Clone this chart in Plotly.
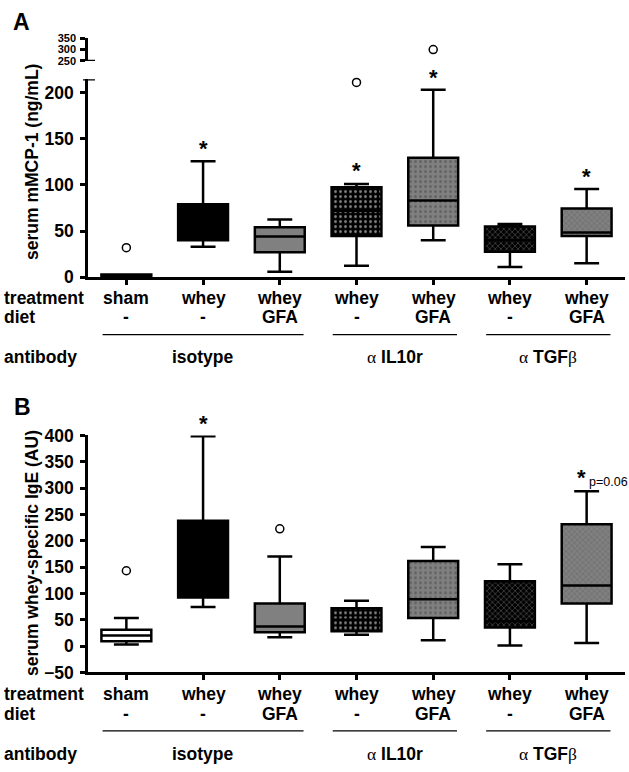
import plotly.graph_objects as go

W, H = 629, 772

# ---------------- data ----------------
categories = [0, 1, 2, 3, 4, 5, 6]
treatments = ["sham", "whey", "whey", "whey", "whey", "whey", "whey"]
diets = ["-", "-", "GFA", "-", "GFA", "-", "GFA"]
row_labels = ["treatment", "diet", "antibody"]
antibody_labels = ["<b>isotype</b>",
                   '<span style="font-family:Liberation Serif">α</span> <b>IL10r</b>',
                   '<span style="font-family:Liberation Serif">α</span> <b>TGF</b><span style="font-family:Liberation Serif">β</span>']
antibody_spans = [[0, 2], [3, 4], [5, 6]]

# Panel A : serum mMCP-1 (ng/mL)
a_ticks = [0, 50, 100, 150, 200]
a_hi_ticks = [250, 300, 350]
a_q1 = [0, 40, 27, 44.5, 56, 27.5, 44.5]
a_med = [1, 55, 44, 72, 83, 40, 48.5]
a_q3 = [3, 79, 54, 97.5, 129.5, 55, 74.5]
a_low = [0, 33, 6, 12.5, 40, 11, 15]
a_high = [3, 125.5, 62.5, 101, 203, 57.5, 95.5]
a_out_x = [0, 3]
a_out_y = [32, 211]
a_outhi_x = [4]
a_outhi_y = [300]
a_star_x = [1, 3, 4, 6]
a_star_y = [145, 120.5, 221.5, 115]

# Panel B : serum whey-specific IgE (AU)
b_ticks = [-50, 0, 50, 100, 150, 200, 250, 300, 350, 400]
b_q1 = [9, 92, 26, 28, 53.5, 35, 81]
b_med = [20, 130, 37, 50, 89, 47, 115]
b_q3 = [31, 238, 81, 72, 161.5, 123, 231.5]
b_low = [3, 74, 16.5, 21.5, 11, 1, 6]
b_high = [53.5, 398.5, 170, 86, 188, 155.5, 294]
b_out_x = [0, 2]
b_out_y = [143, 222.5]
b_star_x = [1, 5.93]
b_star_y = [432, 329]
b_pval_text = "p=0.06"
b_pval_x = 6.01
b_pval_y = 311

# ---------------- styles ----------------
FONT = "Liberation Sans, Arial, sans-serif"
fills = ["white", "black", "#808080", "black", "#808080", "black", "#808080"]
pat_shapes = ["", "", "", ".", ".", "x", "x"]
pat_fg = ["black", "black", "black", "white", "#262626", "white", "#262626"]
pat_size = [5, 5, 5, 5, 5, 4, 4]
pat_solid = [0.25, 0.25, 0.25, 0.25, 0.25, 0.2, 0.2]
LW = 2.5
BOXW = 0.65
FS = 17.5


def px_y(py):
    return 1 - py / H


def px_x(px):
    return px / W


A_DOM = [px_y(274.3), px_y(71)]
A_RNG = [0, 214.5]
A2_DOM = [px_y(52.3), px_y(29)]
A2_RNG = [250, 350]
B_DOM = [px_y(680), px_y(436.7)]
B_RNG = [-50, 400]


def val_to_paper(v, dom, rng):
    return dom[0] + (v - rng[0]) / (rng[1] - rng[0]) * (dom[1] - dom[0])


fig = go.Figure()


def add_panel(xa, ya, q1, med, q3, low, high):
    xs = categories
    fig.add_trace(go.Bar(
        x=xs, y=[b - a for a, b in zip(q1, q3)], base=q1, width=BOXW,
        xaxis=xa, yaxis=ya,
        marker=dict(color=fills, line=dict(width=0),
                    pattern=dict(shape=pat_shapes, fgcolor=pat_fg, bgcolor=fills,
                                 size=pat_size, solidity=pat_solid)),
        showlegend=False, hoverinfo="skip"))
    fig.add_trace(go.Box(
        x=xs, q1=q1, median=med, q3=q3, lowerfence=low, upperfence=high,
        xaxis=xa, yaxis=ya, width=BOXW, whiskerwidth=0.5, boxpoints=False,
        fillcolor="rgba(0,0,0,0)", line=dict(color="black", width=LW),
        showlegend=False))


add_panel("x", "y", a_q1, a_med, a_q3, a_low, a_high)
add_panel("x2", "y3", b_q1, b_med, b_q3, b_low, b_high)

outl = dict(symbol="circle-open", size=8, color="black", line=dict(width=1.5))
fig.add_trace(go.Scatter(x=a_out_x, y=a_out_y, mode="markers", marker=outl,
                         xaxis="x", yaxis="y", cliponaxis=False, showlegend=False))
fig.add_trace(go.Scatter(x=a_outhi_x, y=a_outhi_y, mode="markers", marker=outl,
                         xaxis="x", yaxis="y2", cliponaxis=False, showlegend=False))
fig.add_trace(go.Scatter(x=b_out_x, y=b_out_y, mode="markers", marker=outl,
                         xaxis="x2", yaxis="y3", cliponaxis=False, showlegend=False))

tickfont = dict(family=FONT, size=FS, color="black", weight="bold")
xdom = [px_x(88), px_x(625)]
common_x = dict(domain=xdom, range=[-0.5, 6.5], showline=True, linewidth=LW, linecolor="black",
                ticks="outside", ticklen=5, tickwidth=LW, tickcolor="black",
                tickvals=categories, showticklabels=False, showgrid=False, zeroline=False)
common_y = dict(showline=True, linewidth=LW, linecolor="black", ticks="outside", ticklen=5,
                tickwidth=LW, tickcolor="black", showgrid=False, zeroline=False,
                tickfont=tickfont, ticklabelstandoff=3)

fig.update_layout(
    width=W, height=H, margin=dict(l=0, r=0, t=0, b=0),
    paper_bgcolor="white", plot_bgcolor="rgba(0,0,0,0)",
    font=dict(family=FONT, color="black"),
    showlegend=False,
    xaxis=dict(anchor="y", **common_x),
    xaxis2=dict(anchor="y3", **common_x),
    yaxis=dict(anchor="x", domain=A_DOM, range=A_RNG, tickvals=a_ticks, **common_y),
    yaxis2=dict(anchor="x", domain=A2_DOM, range=A2_RNG, tickvals=a_hi_ticks,
                **{**common_y, "ticklabelstandoff": 2,
                   "tickfont": dict(family=FONT, size=11, color="black", weight="bold")}),
    yaxis3=dict(anchor="x2", domain=B_DOM, range=B_RNG, tickvals=b_ticks, **common_y),
)

# axis break marks
for yref, val in [("y", A_RNG[1]), ("y2", A2_RNG[0])]:
    fig.add_shape(type="line", xref="paper", yref=yref, x0=px_x(83), x1=px_x(95),
                  y0=val, y1=val, line=dict(color="black", width=LW))

ann = []
labfont = dict(family=FONT, size=FS, color="black", weight="bold")
starfont = dict(family=FONT, size=22, color="black", weight="bold")

for xa, sx, sy, dom, rng in [("x", a_star_x, a_star_y, A_DOM, A_RNG),
                             ("x2", b_star_x, b_star_y, B_DOM, B_RNG)]:
    for x, y in zip(sx, sy):
        ann.append(dict(xref=xa, yref="paper", x=x, y=val_to_paper(y, dom, rng), text="*",
                        showarrow=False, xanchor="center", yanchor="middle", yshift=-5,
                        font=starfont))

for xa, rows_y, line_y, ab_y in [("x", (296, 315), 333.3, 356), ("x2", (702.3, 722.7), 740, 763.3)]:
    for lab, yy in zip(row_labels, [rows_y[0], rows_y[1], ab_y]):
        ann.append(dict(xref="paper", yref="paper", x=px_x(2), y=px_y(yy), text=lab,
                        xanchor="left", yanchor="middle", showarrow=False, font=labfont))
    for c, t, d in zip(categories, treatments, diets):
        ann.append(dict(xref=xa, yref="paper", x=c, y=px_y(rows_y[0]), text=t,
                        xanchor="center", yanchor="middle", showarrow=False, font=labfont))
        ann.append(dict(xref=xa, yref="paper", x=c, y=px_y(rows_y[1]), text=d,
                        xanchor="center", yanchor="middle", showarrow=False, font=labfont))
    for lab, (c0, c1) in zip(antibody_labels, antibody_spans):
        fig.add_shape(type="line", xref=xa, yref="paper", x0=c0 - 0.31, x1=c1 + 0.31,
                      y0=px_y(line_y), y1=px_y(line_y), line=dict(color="black", width=1.2))
        ann.append(dict(xref=xa, yref="paper", x=(c0 + c1) / 2, y=px_y(ab_y), text=lab,
                        xanchor="center", yanchor="middle", showarrow=False,
                        font=dict(family=FONT, size=FS, color="black")))

# axis titles
ann.append(dict(xref="paper", yref="paper", x=px_x(32), y=px_y(156), text="serum mMCP-1 (ng/mL)",
                textangle=-90, showarrow=False, xanchor="center", yanchor="middle", font=labfont))
ann.append(dict(xref="paper", yref="paper", x=px_x(32), y=px_y(557.5),
                text="serum whey-specific IgE (AU)",
                textangle=-90, showarrow=False, xanchor="center", yanchor="middle", font=labfont))
# panel letters
panfont = dict(family=FONT, size=23, color="black", weight="bold")
ann.append(dict(xref="paper", yref="paper", x=px_x(21), y=px_y(12.5), text="A", showarrow=False,
                xanchor="center", yanchor="middle", font=panfont))
ann.append(dict(xref="paper", yref="paper", x=px_x(22), y=px_y(408), text="B", showarrow=False,
                xanchor="center", yanchor="middle", font=panfont))
# p value
ann.append(dict(xref="x2", yref="y3", x=b_pval_x, y=b_pval_y, text=b_pval_text, showarrow=False,
                xanchor="left", yanchor="middle", font=dict(family=FONT, size=12.5, color="black")))

fig.update_layout(annotations=ann)
fig.write_html("out.html", config={"displayModeBar": False},
               post_script="document.body.style.margin='0px';")
